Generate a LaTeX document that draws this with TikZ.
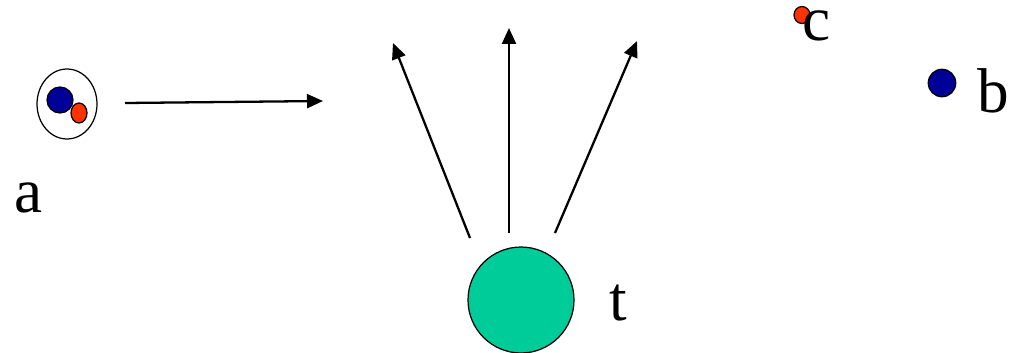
\documentclass[tikz,border=0pt]{standalone}
\usepackage{fontspec}
\setmainfont{Liberation Serif}
\newfontfamily\lblfont{Liberation Serif}
\usetikzlibrary{arrows.meta,positioning,shapes.geometric}
\definecolor{Navy}{HTML}{000099}
\definecolor{Red}{HTML}{FF3300}
\definecolor{Green}{HTML}{00CC99}

\begin{document}
\begin{tikzpicture}[x=0.02cm,y=-0.02cm,
    dot/.style={circle,draw=black,line width=0.7pt,inner sep=0pt,minimum size=#1},
    oval/.style={ellipse,draw=black,line width=0.7pt,inner sep=0pt},
    lbl/.style={anchor=base west,inner sep=0pt,font=\lblfont\fontsize{36}{40}\selectfont},
    arr/.style={-{Triangle[length=0.32cm,width=0.28cm]},line width=1.3pt,black}
  ]
    \useasboundingbox (0,0) rectangle (1014,352);
    % particle a: bound pair
    \node[oval,minimum width=1.2cm,minimum height=1.4cm] (pair) at (67,104) {};
    \node[dot=0.52cm,fill=Navy] (a1) at (60,100) {};
    \node[oval,fill=Red,minimum width=0.32cm,minimum height=0.4cm] (a2) at (79,113) {};
    \node[lbl] (la) at (14,212) {a};
    \coordinate (ahead) at (323,101);
    \draw[arr] (125,103) -- (ahead);
    % target t and the outgoing arrows
    \node[dot=2.12cm,fill=Green] (t) at (521,300) {};
    \node[lbl] (lt) at (609,320) {t};
    \foreach \xs/\ys/\xe/\ye/\n in {470/238/393/43/1,509/233/509/28/2,555/233/637/41/3}{
      \coordinate (ts\n) at (\xs,\ys);
      \coordinate (te\n) at (\xe,\ye);
      \draw[arr] (ts\n) -- (te\n);
    }
    % separated c and b
    \node[oval,fill=Red,minimum width=0.32cm,minimum height=0.34cm] (c) at (802,15) {};
    \node[lbl] (lc) at (802,40) {c};
    \node[dot=0.55cm,fill=Navy] (b) at (942,83) {};
    \node[lbl] (lb) at (977,112) {b};
  \end{tikzpicture}
\end{document}
